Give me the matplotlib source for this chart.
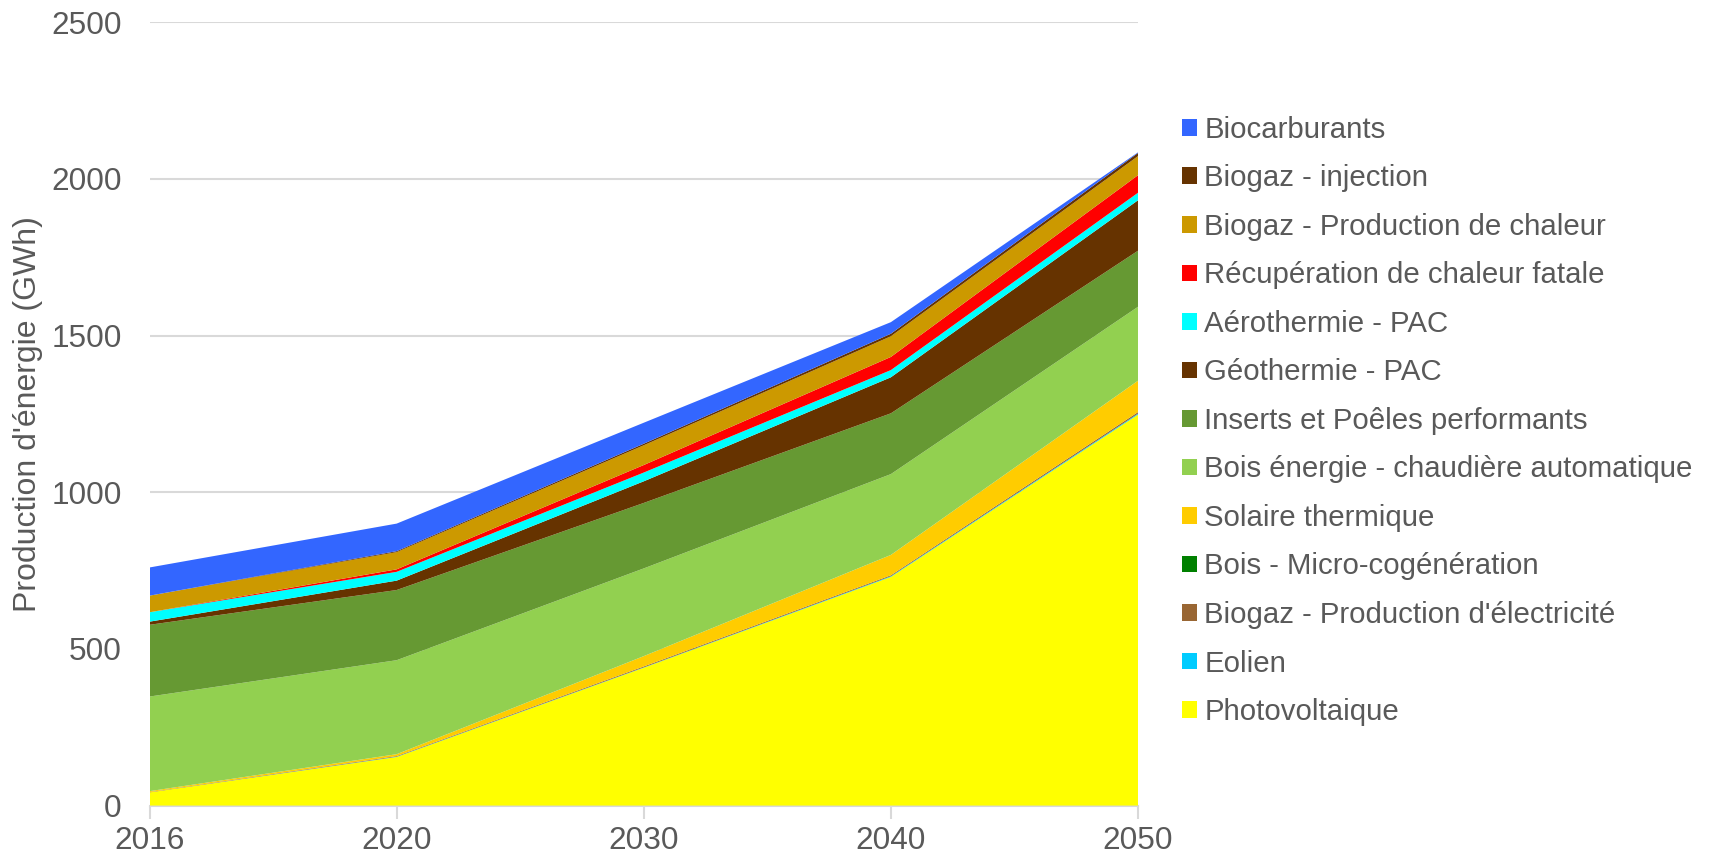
import matplotlib.pyplot as plt
from matplotlib.patches import Patch
import numpy as np

plt.rcParams['font.family'] = ['Liberation Sans', 'DejaVu Sans']

# années du scénario
annees = ["2016", "2020", "2030", "2040", "2050"]

# production par filière (GWh), de bas en haut de l'empilement
photovoltaique = [42, 155, 440, 730, 1248]
eolien = [0, 1, 1, 2, 3]
biogaz_elec = [1, 2, 3, 3, 5]
bois_micro = [0, 0, 0, 0, 0]
solaire_thermique = [3, 6, 33, 65, 100]
bois_chaudiere = [302, 300, 280, 258, 236]
inserts_poeles = [229, 224, 209, 194, 179]
geothermie = [10, 30, 69, 115, 161]
aerothermie = [30, 28, 28, 23, 24]
recuperation = [0, 8, 24, 42, 56]
biogaz_chaleur = [53, 55, 63, 66, 61]
biogaz_injection = [0, 3, 5, 8, 10]
biocarburants = [90, 88, 67, 37, 2]

series = [photovoltaique, eolien, biogaz_elec, bois_micro, solaire_thermique,
          bois_chaudiere, inserts_poeles, geothermie, aerothermie, recuperation,
          biogaz_chaleur, biogaz_injection, biocarburants]
noms = ["Photovoltaique", "Eolien", "Biogaz - Production d'électricité",
        "Bois - Micro-cogénération", "Solaire thermique",
        "Bois énergie - chaudière automatique", "Inserts et Poêles performants",
        "Géothermie - PAC", "Aérothermie - PAC", "Récupération de chaleur fatale",
        "Biogaz - Production de chaleur", "Biogaz - injection", "Biocarburants"]
couleurs = ["#FFFF00", "#00CCFF", "#996633", "#008000", "#FFCC00",
            "#92D050", "#669933", "#663300", "#00FFFF", "#FF0000",
            "#CC9900", "#663300", "#3366FF"]

gris = "#595959"

fig = plt.figure(figsize=(17.11, 8.59), dpi=100)
ax = fig.add_axes([0.0874, 0.0622, 0.5777, 0.9118])

x = np.arange(len(annees))
ax.stackplot(x, *series, colors=couleurs, linewidth=0)

ax.set_xlim(0, len(annees) - 1)
ax.set_ylim(0, 2500)
ax.set_yticks(np.arange(0, 2501, 500))
ax.set_xticks(x)
ax.set_xticklabels(annees)
ax.yaxis.grid(True, color="#D9D9D9", linewidth=1.5)
ax.set_axisbelow(True)

for s in ["top", "right", "left"]:
    ax.spines[s].set_visible(False)
ax.spines["bottom"].set_color("#D9D9D9")
ax.spines["bottom"].set_linewidth(1.5)
ax.spines["bottom"].set_zorder(0)

ax.tick_params(axis="y", length=0, pad=20, labelsize=22.7, labelcolor=gris)
ax.tick_params(axis="x", length=9, width=1.5, color="#D9D9D9", pad=6,
               labelsize=22.7, labelcolor=gris)

ax.set_ylabel("Production d'énergie (GWh)", fontsize=23, color=gris, labelpad=6)

# légende dans l'ordre de l'empilement, du haut vers le bas
handles = [Patch(facecolor=c, edgecolor="none") for c in couleurs[::-1]]
leg = fig.legend(handles, noms[::-1], loc="upper left",
                 bbox_to_anchor=(1170 / 1711, 1 - 104 / 859),
                 frameon=False, fontsize=21.2, labelcolor=gris,
                 handlelength=0.5, handleheight=0.5, handletextpad=0.26,
                 labelspacing=0.697, borderaxespad=0)

fig.savefig("out.png", dpi=100)
